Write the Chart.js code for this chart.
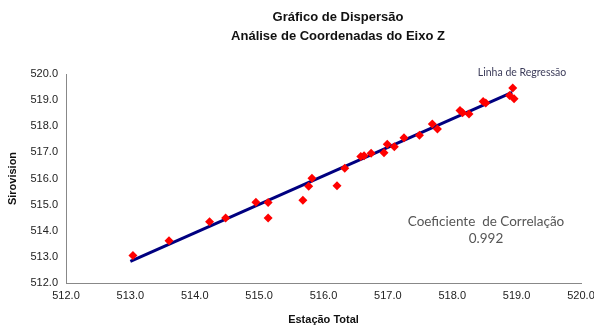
<!DOCTYPE html>
<html>
<head>
<meta charset="utf-8">
<script src="https://cdn.jsdelivr.net/npm/chart.js@4"></script>
<style>
html,body{margin:0;padding:0;background:#fff;}
#wrap{width:594px;height:327px;position:relative;}
</style>
</head>
<body>
<div id="wrap"><canvas id="c" width="594" height="327"></canvas></div>
<script>
// Data
const estacaoTotal = [513.04, 513.60, 514.23, 514.48, 514.95, 515.14, 515.14, 515.68, 515.77, 515.82,
  516.21, 516.33, 516.58, 516.63, 516.74, 516.94, 516.99, 517.10, 517.25, 517.49,
  517.69, 517.77, 518.12, 518.16, 518.26, 518.48, 518.52, 518.94, 518.89, 518.96];
const sirovision = [513.05, 513.62, 514.34, 514.49, 515.09, 515.08, 514.49, 515.17, 515.70, 516.01,
  515.72, 516.39, 516.84, 516.87, 516.97, 516.99, 517.31, 517.22, 517.56, 517.66,
  518.09, 517.89, 518.60, 518.52, 518.47, 518.95, 518.89, 519.46, 519.18, 519.05];
const regressionX = [513.0, 518.93];
const regressionY = [512.83, 519.30];
const axisMin = 512, axisMax = 520, axisStep = 1;
const titleLines = ["Gráfico de Dispersão", "Análise de Coordenadas do Eixo Z"];
const xTitle = "Estação Total";
const yTitle = "Sirovision";
const lineLabel = "Linha de Regressão";
const corrLabel = "Coeficiente  de Correlação";
const corrValue = "0.992";

const points = estacaoTotal.map((x, i) => ({x: x, y: sirovision[i]}));
const regLine = regressionX.map((x, i) => ({x: x, y: regressionY[i]}));

const textPlugin = {
  id: 'texts',
  afterDraw(chart) {
    const ctx = chart.ctx;
    ctx.save();
    ctx.textAlign = 'center';
    ctx.textBaseline = 'middle';
    ctx.fillStyle = '#111';
    ctx.font = 'bold 13px "Liberation Sans", Arial, sans-serif';
    ctx.fillText(titleLines[0], 338, 17);
    ctx.fillText(titleLines[1], 338, 36);
    ctx.font = '10.5px Lato, "Open Sans", sans-serif';
    ctx.fillStyle = '#3c3c5a';
    ctx.fillText(lineLabel, 522, 73);
    ctx.font = '13.5px Lato, "Open Sans", sans-serif';
    ctx.fillStyle = '#555';
    ctx.fillText(corrLabel, 486, 222);
    ctx.fillText(corrValue, 486, 239);
    ctx.restore();
  }
};

new Chart(document.getElementById('c'), {
  type: 'scatter',
  data: {
    datasets: [
      {
        label: 'Regressão',
        type: 'line',
        data: regLine,
        borderColor: '#000080',
        borderWidth: 3,
        pointRadius: 0,
        fill: false,
        order: 2
      },
      {
        label: 'Pontos',
        data: points,
        pointStyle: 'rectRot',
        pointRadius: 4.5,
        backgroundColor: '#ff0000',
        borderColor: '#ff0000',
        borderWidth: 0,
        order: 1
      }
    ]
  },
  options: {
    responsive: false,
    animation: false,
    devicePixelRatio: 1,
    layout: {padding: {top: 74, left: 0, right: 0, bottom: 0}},
    plugins: {
      legend: {display: false},
      tooltip: {enabled: false},
      title: {display: false}
    },
    scales: {
      x: {
        type: 'linear',
        min: axisMin, max: axisMax,
        afterFit(s) { s.height = 44; s.paddingRight = 13; },
        ticks: {
          stepSize: axisStep,
          callback: v => v.toFixed(1),
          color: '#222',
          font: {family: '"Liberation Sans", Arial, sans-serif', size: 11},
          padding: 2,
          maxRotation: 0
        },
        grid: {display: false, drawTicks: true, tickLength: 4, color: '#888'},
        border: {display: true, color: '#888', width: 1},
        title: {
          display: true, text: xTitle, color: '#111',
          font: {family: '"Liberation Sans", Arial, sans-serif', size: 11, weight: 'bold'},
          padding: {top: 4, bottom: 0}
        }
      },
      y: {
        type: 'linear',
        min: axisMin, max: axisMax,
        afterFit(s) { s.width = 66; },
        ticks: {
          stepSize: axisStep,
          callback: v => v.toFixed(1),
          color: '#222',
          font: {family: '"Liberation Sans", Arial, sans-serif', size: 11},
          padding: 4
        },
        grid: {display: false, drawTicks: true, tickLength: 4, color: '#888'},
        border: {display: true, color: '#888', width: 1},
        title: {
          display: true, text: yTitle, color: '#111',
          font: {family: '"Liberation Sans", Arial, sans-serif', size: 11, weight: 'bold'},
          padding: {top: 6, bottom: 0}
        }
      }
    }
  },
  plugins: [textPlugin]
});
</script>
</body>
</html>
